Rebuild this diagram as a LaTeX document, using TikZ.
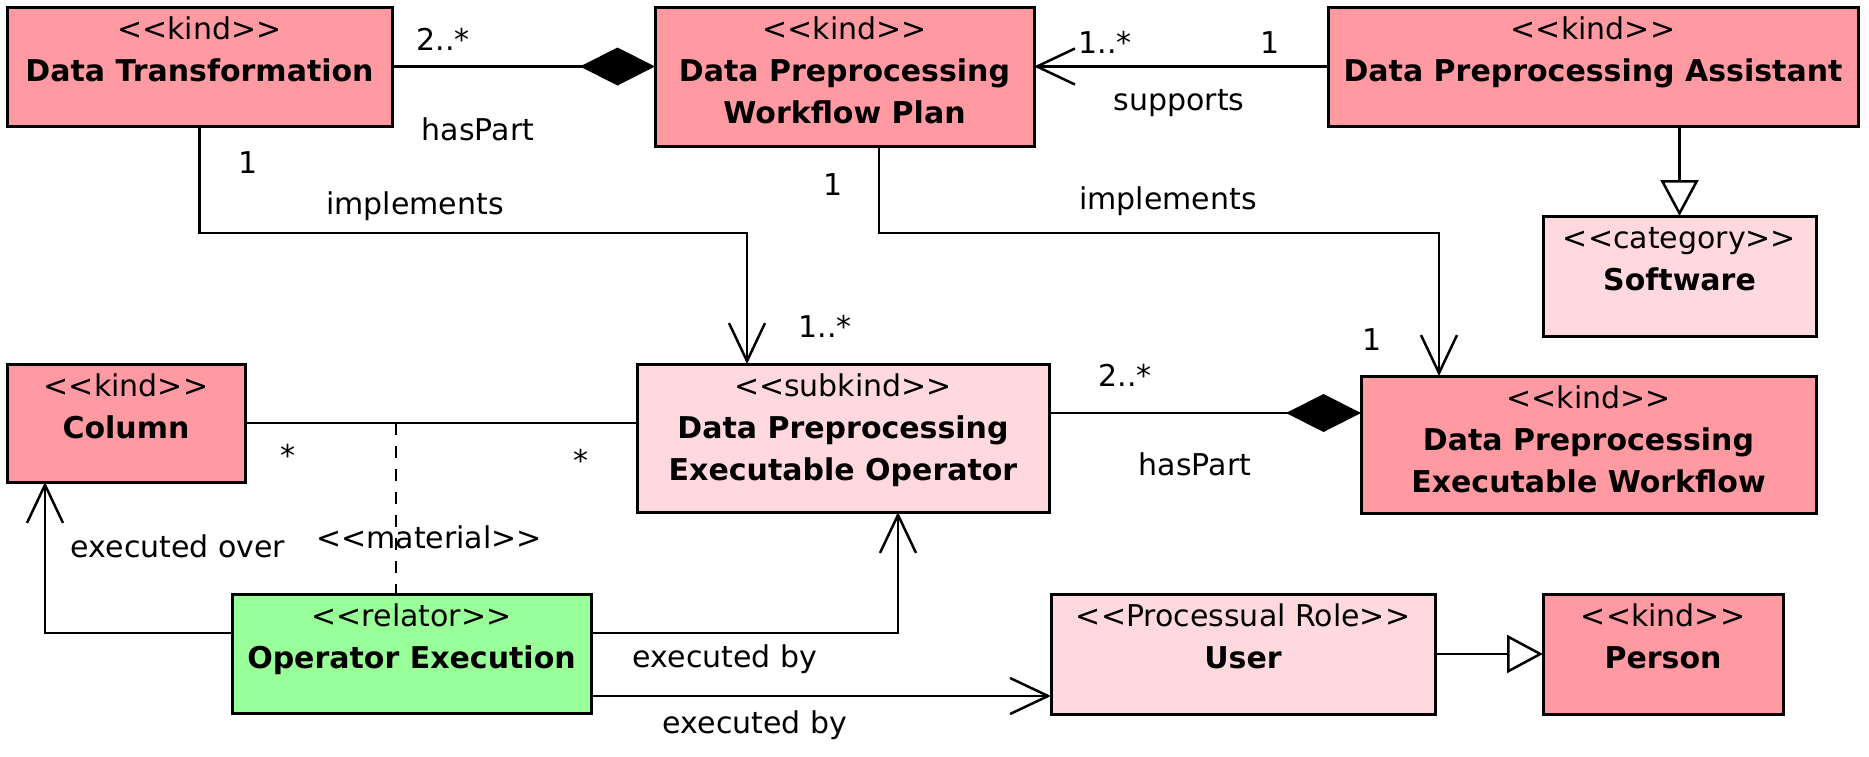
\documentclass[tikz,border=0pt]{standalone}
\usepackage{fontspec}
\setmainfont{DejaVu Sans}
\usetikzlibrary{arrows.meta}
\definecolor{kindc}{RGB}{255,154,162}
\definecolor{lightc}{RGB}{255,217,221}
\definecolor{relc}{RGB}{153,255,153}
\newcommand{\boxtext}[3]{\parbox[t][#2pt][t]{#1pt}{\centering\fontsize{30}{42}\selectfont\rule{0pt}{32pt}#3}}
\tikzset{
  umlbox/.style={draw=black, line width=3pt, anchor=north west, inner sep=0pt, outer sep=0pt},
  kindbox/.style={umlbox, fill=kindc},
  lightbox/.style={umlbox, fill=lightc},
  relbox/.style={umlbox, fill=relc},
  conn/.style={line width=2.5pt},
  lbl/.style={font=\fontsize{30}{36}\selectfont, inner sep=0pt, anchor=base},
  opentip/.style={-{Straight Barb[length=38pt,width=36pt]}},
  gentip/.style={-{Triangle[open, length=36pt, width=38pt]}},
  comptip/.style={-{Diamond[length=75pt, width=38pt]}},
  matline/.style={line width=2.5pt, dash pattern=on 12pt off 11pt}
}
\begin{document}
\begin{tikzpicture}[x=1pt,y=-1pt]
\useasboundingbox (0,0) rectangle (1869,756);
% boxes
\node[kindbox] (dt) at (7,7) {\boxtext{385}{119}{<{}<kind>{}>\\\bfseries Data Transformation}};
\node[kindbox] (dpwp) at (655,7) {\boxtext{379}{139}{<{}<kind>{}>\\\bfseries Data Preprocessing\\Workflow Plan}};
\node[kindbox] (dpa) at (1328,7) {\boxtext{530}{119}{<{}<kind>{}>\\\bfseries Data Preprocessing Assistant}};
\node[lightbox] (sw) at (1543,216) {\boxtext{273}{120}{<{}<category>{}>\\\bfseries Software}};
\node[kindbox] (col) at (7,364) {\boxtext{238}{118}{<{}<kind>{}>\\\bfseries Column}};
\node[lightbox] (dpeo) at (637,364) {\boxtext{412}{148}{<{}<subkind>{}>\\\bfseries Data Preprocessing\\Executable Operator}};
\node[kindbox] (dpew) at (1361,376) {\boxtext{455}{137}{<{}<kind>{}>\\\bfseries Data Preprocessing\\Executable Workflow}};
\node[relbox] (oe) at (232,594) {\boxtext{359}{119}{<{}<relator>{}>\\\bfseries Operator Execution}};
\node[lightbox] (user) at (1051,594) {\boxtext{384}{120}{<{}<Processual Role>{}>\\\bfseries User}};
\node[kindbox] (person) at (1543,594) {\boxtext{240}{120}{<{}<kind>{}>\\\bfseries Person}};
% helper coordinates
\coordinate (k1) at (747,233);
\coordinate (k2a) at (879,146);
\coordinate (k2) at (1439,233);
\coordinate (k3) at (1000,413);
\coordinate (k4) at (396,423);
\coordinate (k5) at (45,633);
\coordinate (k6) at (898,633);
\coordinate (k7) at (700,696);
% connectors
\draw[conn, comptip] (dt.east) -- (dt.east -| dpwp.west);
\draw[conn, opentip] (dpa.west) -- (dpa.west -| dpwp.east);
\draw[conn, gentip] (sw.north |- dpa.south) -- (sw.north);
\draw[conn, opentip] (dt.south) |- (k1) -- (k1 |- dpeo.north);
\draw[conn, opentip] (k2a |- dpwp.south) |- (k2) -- (k2 |- dpew.north);
\draw[conn, comptip] (k3 -| dpeo.east) -- (k3 -| dpew.west);
\draw[conn] (col.east) -- (col.east -| dpeo.west);
\draw[matline] (k4) -- ([yshift=-8pt]k4 |- oe.north);
\draw[conn, opentip] (oe.west |- k5) -- (k5) -- (k5 |- col.south);
\draw[conn, opentip] (oe.east |- k6) -- (k6) -- (k6 |- dpeo.south);
\draw[conn, opentip] (oe.east |- k7) -- (user.west |- k7);
\draw[conn, gentip] (user.east) -- (person.west);
% labels
\node[lbl] (l1) at (443,50) {2..*};
\node[lbl] (l2) at (478,140) {hasPart};
\node[lbl] (l3) at (248,173) {1};
\node[lbl] (l4) at (415,214) {implements};
\node[lbl] (l5) at (825,337) {1..*};
\node[lbl] (l6) at (833,195) {1};
\node[lbl] (l7) at (1105,53) {1..*};
\node[lbl] (l8) at (1270,53) {1};
\node[lbl] (l9) at (1179,110) {supports};
\node[lbl] (l10) at (1168,209) {implements};
\node[lbl] (l11) at (1372,350) {1};
\node[lbl] (l12) at (1125,386) {2..*};
\node[lbl] (l13) at (1195,475) {hasPart};
\node[lbl] (l14) at (288,466) {*};
\node[lbl] (l15) at (581,471) {*};
\node[lbl] (l16) at (178,557) {executed over};
\node[lbl] (l17) at (429,548) {<{}<material>{}>};
\node[lbl] (l18) at (725,667) {executed by};
\node[lbl] (l19) at (755,733) {executed by};
\end{tikzpicture}
\end{document}
